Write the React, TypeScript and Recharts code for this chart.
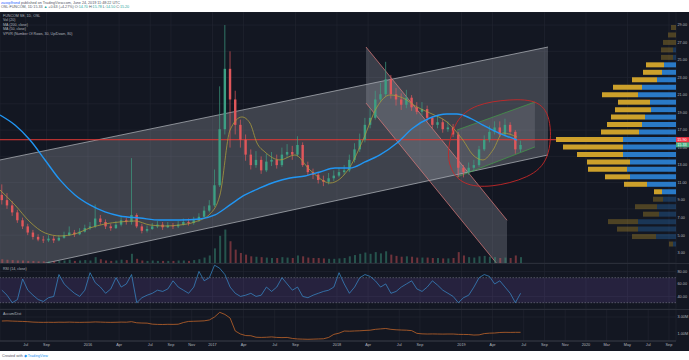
import React from "react"
import {
  ComposedChart,
  BarChart,
  Bar,
  Line,
  Area,
  XAxis,
  YAxis,
  CartesianGrid,
  ReferenceLine,
  ReferenceArea,
  Cell,
} from "recharts"

// ---- time axis (months counted from Jan 2016) ----
const X_DOMAIN: [number, number] = [-8.48, 56.68]
const tickMonths = [-6, -4, 0, 3, 6, 8, 10, 12, 15, 18, 20, 24, 27, 30, 32, 36, 39, 42, 44, 46, 48, 50, 52, 54, 56]
const tickLabels = ["Jul", "Sep", "2016", "Apr", "Jul", "Sep", "Nov", "2017", "Apr", "Jul", "Sep", "2018", "Apr", "Jul", "Sep", "2019", "Apr", "Jul", "Sep", "Nov", "2020", "Mar", "May", "Jul", "Sep"]

// half-month candles, first one mid April 2015
const CANDLE_START = -8.3
const CANDLE_STEP = 0.5

const opens = [
  9.6, 9.0, 8.4, 7.6, 6.7, 6.0, 5.3, 4.8, 4.5, 4.4,
  4.6, 4.4, 4.7, 5.0, 5.3, 5.1, 5.4, 5.8, 6.0, 6.9,
  6.5, 6.0, 5.8, 6.2, 6.7, 6.5, 7.3, 6.0, 5.5, 5.7,
  6.0, 6.2, 5.9, 6.1, 6.0, 6.2, 6.5, 6.4, 6.7, 7.1,
  7.8, 8.4, 10.7, 17.1, 24.0, 20.5, 17.6, 15.9, 14.2, 13.0,
  13.6, 12.4, 13.4, 13.6, 13.0, 14.2, 14.5, 14.2, 15.3, 13.0,
  12.2, 11.9, 11.3, 11.1, 11.5, 11.8, 12.2, 12.4, 13.6, 14.8,
  15.9, 17.6, 18.4, 20.5, 21.1, 22.8, 21.1, 20.5, 19.9, 20.7,
  19.6, 19.1, 19.4, 18.4, 17.6, 17.9, 17.1, 17.3, 16.5, 12.7,
  12.2, 12.7, 13.0, 14.8, 15.9, 16.8, 17.3, 16.5, 17.6, 16.8,
  14.8,
]
const highs = [
  10.8, 9.8, 8.9, 7.9, 7.0, 6.3, 5.6, 5.1, 4.9, 5.0,
  4.9, 5.0, 5.4, 6.0, 5.6, 5.8, 6.2, 6.5, 8.5, 7.3,
  6.8, 6.3, 6.6, 7.2, 7.0, 13.8, 7.5, 6.3, 6.1, 6.4,
  6.6, 6.5, 6.5, 6.4, 6.6, 6.9, 6.9, 7.1, 7.5, 8.3,
  9.0, 12.5, 22.0, 29.0, 26.0, 21.5, 18.2, 16.5, 14.8, 14.6,
  14.0, 14.3, 14.5, 14.2, 15.0, 15.4, 15.2, 16.3, 15.6, 13.4,
  12.6, 12.2, 11.8, 12.1, 12.4, 12.7, 13.0, 14.2, 15.5, 16.6,
  18.4, 19.5, 21.5, 22.4, 24.8, 23.3, 21.8, 21.2, 21.6, 21.0,
  20.2, 20.2, 19.8, 18.6, 18.6, 18.3, 18.0, 17.7, 16.8, 13.0,
  13.3, 13.6, 15.2, 16.4, 17.5, 18.0, 18.0, 18.3, 17.9, 17.0,
  15.8,
]
const lows = [
  8.5, 8.0, 7.2, 6.4, 5.7, 5.0, 4.5, 4.3, 4.1, 4.2,
  4.1, 4.3, 4.6, 4.9, 4.8, 5.0, 5.3, 5.6, 5.8, 6.2,
  5.7, 5.5, 5.7, 6.0, 6.2, 6.2, 5.8, 5.2, 5.3, 5.6,
  5.8, 5.6, 5.8, 5.7, 5.8, 6.1, 6.1, 6.2, 6.5, 7.0,
  7.6, 8.2, 10.5, 16.5, 15.0, 16.5, 15.0, 13.5, 12.5, 12.7,
  12.0, 12.2, 12.9, 12.6, 12.8, 13.8, 13.6, 14.0, 12.8, 11.8,
  11.4, 10.9, 10.6, 10.8, 11.2, 11.6, 11.9, 12.2, 13.3, 14.5,
  15.6, 17.2, 18.2, 20.2, 20.8, 20.6, 19.8, 19.3, 19.5, 19.2,
  18.8, 18.7, 18.0, 17.2, 17.2, 16.7, 16.8, 16.2, 11.6, 11.6,
  11.9, 12.3, 12.8, 14.6, 15.6, 16.5, 16.2, 16.3, 16.5, 14.3,
  14.5,
]
const closes = [
  9.0, 8.4, 7.6, 6.7, 6.0, 5.3, 4.8, 4.5, 4.4, 4.6,
  4.4, 4.7, 5.0, 5.3, 5.1, 5.4, 5.8, 6.0, 6.9, 6.5,
  6.0, 5.8, 6.2, 6.7, 6.5, 7.3, 6.0, 5.5, 5.7, 6.0,
  6.2, 5.9, 6.1, 6.0, 6.2, 6.5, 6.4, 6.7, 7.1, 7.8,
  8.4, 10.7, 17.1, 24.0, 20.5, 17.6, 15.9, 14.2, 13.0, 13.6,
  12.4, 13.4, 13.6, 13.0, 14.2, 14.5, 14.2, 15.3, 13.0, 12.2,
  11.9, 11.3, 11.1, 11.5, 11.8, 12.2, 12.4, 13.6, 14.8, 15.9,
  17.6, 18.4, 20.5, 21.1, 22.8, 21.1, 20.5, 19.9, 20.7, 19.6,
  19.1, 19.4, 18.4, 17.6, 17.9, 17.1, 17.3, 16.5, 12.7, 12.2,
  12.7, 13.0, 14.8, 15.9, 16.8, 17.3, 16.5, 17.6, 16.8, 14.8,
  15.3,
]
// volume, millions of shares
const volumes = [
  0.9, 0.8, 0.7, 0.6, 0.6, 0.5, 0.5, 0.4, 0.4, 0.4,
  0.4, 0.5, 0.6, 0.8, 0.5, 0.6, 0.7, 0.6, 1.4, 0.9,
  0.6, 0.5, 0.6, 0.8, 0.7, 2.2, 1.0, 0.6, 0.5, 0.6,
  0.5, 0.5, 0.5, 0.5, 0.6, 0.6, 0.5, 0.7, 0.9, 1.3,
  1.8, 3.5, 6.5, 8.0, 5.2, 3.2, 2.4, 2.0, 1.6, 1.5,
  1.4, 1.3, 1.2, 1.2, 1.4, 1.3, 1.2, 1.8, 1.6, 1.3,
  1.2, 1.2, 1.1, 1.0, 1.0, 1.1, 1.2, 1.6, 1.9, 2.2,
  2.5, 2.2, 2.6, 2.3, 2.8, 2.0, 1.7, 1.5, 1.6, 1.5,
  1.3, 1.3, 1.3, 1.2, 1.2, 1.1, 1.1, 1.2, 2.6, 1.8,
  1.4, 1.3, 1.6, 1.7, 1.5, 1.4, 1.2, 1.3, 1.2, 1.8,
  1.4,
]
const rsiValues = [
  50, 42, 30, 35, 68, 50, 42, 35, 32, 38,
  40, 75, 60, 52, 45, 40, 50, 78, 62, 55,
  45, 52, 70, 55, 60, 75, 30, 38, 42, 45,
  50, 48, 52, 65, 55, 50, 45, 55, 80, 65,
  70, 90, 85, 75, 55, 45, 40, 42, 45, 40,
  42, 55, 48, 55, 70, 60, 50, 55, 40, 38,
  42, 45, 48, 50, 55, 78, 60, 45, 55, 70,
  75, 72, 65, 55, 60, 45, 48, 55, 60, 65,
  52, 48, 55, 65, 58, 50, 45, 40, 30, 38,
  42, 55, 70, 75, 72, 60, 65, 55, 45, 30,
  45,
]
// accumulation / distribution, millions
const adValues = [
  2.53, 2.55, 2.52, 2.5, 2.48, 2.45, 2.4, 2.38, 2.37, 2.38,
  2.37, 2.39, 2.38, 2.4, 2.38, 2.37, 2.38, 2.39, 2.42, 2.4,
  2.38, 2.37, 2.38, 2.4, 2.39, 2.45, 2.32, 2.29, 2.28, 2.16,
  2.13, 2.12, 2.14, 2.13, 2.15, 2.35, 2.48, 2.5, 2.52, 2.55,
  2.65, 3.0, 3.55, 3.3, 2.88, 1.35, 1.0, 0.82, 0.8, 0.62,
  0.6, 0.62, 0.66, 0.6, 0.58, 0.6, 0.48, 0.42, 0.4, 0.38,
  0.4, 0.42, 0.44, 0.6, 0.96, 1.1, 1.35, 1.33, 1.36, 1.38,
  1.42, 1.45, 1.55, 1.6, 1.65, 1.55, 1.5, 1.47, 1.45, 1.4,
  1.08, 1.02, 1.0, 1.01, 1.0, 0.99, 1.0, 1.0, 0.96, 0.95,
  0.94, 0.88, 0.9, 1.05, 1.1, 1.12, 1.18, 1.2, 1.19, 1.2,
  1.2,
]

// moving averages: [month, price]
const ma200Points = [
  [-8.48, 18.72], [-7.04, 17.58], [-5.59, 15.87], [-4.14, 13.59], [-2.7, 11.31], [-1.25, 9.59],
  [0.19, 8.45], [1.64, 7.65], [3.08, 7.19], [5.01, 6.96], [6.94, 6.73], [8.87, 6.73],
  [10.8, 6.85], [12.24, 7.31], [13.69, 8.45], [15.13, 9.59], [16.58, 10.39], [18.02, 11.07],
  [19.47, 11.53], [20.92, 11.76], [22.36, 12.22], [23.81, 12.67], [25.25, 12.67], [26.7, 13.36],
  [28.14, 14.16], [29.78, 15.53], [31.33, 17.24], [32.96, 18.38], [34.6, 18.84], [35.57, 18.84],
  [36.82, 18.38], [38.07, 17.58], [39.42, 16.78], [41.35, 15.87],
]
const ma50Points = [
  [-8.48, 10.16], [-7.04, 8.45], [-5.59, 6.51], [-4.14, 5.25], [-2.7, 4.91], [-1.25, 5.14],
  [0.19, 5.82], [1.64, 6.28], [3.08, 6.51], [4.53, 6.62], [5.98, 6.16], [7.42, 6.05],
  [8.87, 6.16], [10.31, 6.51], [11.76, 7.42], [12.72, 9.59], [13.69, 17.0], [14.84, 18.5],
  [15.61, 17.81], [16.29, 15.53], [17.06, 14.5], [18.51, 13.59], [19.95, 14.16], [21.4, 12.44],
  [23.33, 10.96], [25.25, 12.79], [26.51, 15.87], [27.86, 19.64], [29.11, 21.01], [30.36, 20.67],
  [31.71, 19.64], [32.96, 18.95], [34.6, 17.93], [36.14, 15.87], [37.11, 14.16], [38.07, 13.59],
  [39.04, 14.73], [40.0, 16.67], [41.35, 16.21],
]

// drawings: [month, lower, upper]
const riseChannel = [[-8.48, 0.68, 13.59], [44.34, 14.16, 26.49]]
const fallChannel = [[26.8, 20.09, 26.49], [40.39, 0.33, 6.71]]
const greenChannel = [[35.57, 11.64, 17.01], [43.08, 15.07, 20.21]]
const circlePoints = [
  [34.6, 14.73], [35.37, 18.15], [37.3, 19.98], [40.67, 20.55], [43.57, 20.44], [44.72, 18.15],
  [44.53, 13.59], [42.6, 11.53], [38.75, 10.39], [36.14, 10.73], [34.89, 12.44],
]
const RES_LINE = 15.9
const LAST_PRICE = 15.33

// price axis
const PRICE_DOMAIN: [number, number] = [1.82, 30.49]
const priceTicks = [3, 4, 5, 6, 7, 8, 9, 10, 11, 12, 13, 14, 15, 16, 17, 18, 19, 20, 21, 22, 23, 24, 25, 26, 27, 28, 29]

// volume profile rows, top to bottom: up / down volume, inside value area
const vpUp = [0, 0, 0, 3, 3, 12, 14, 19, 34, 38, 26, 25, 31, 34, 37, 53, 53, 53, 46, 49, 46, 29, 14, 13, 19, 17, 38, 38, 20, 3]
const vpDown = [5, 8, 13, 12, 12, 18, 19, 25, 29, 36, 32, 36, 34, 35, 38, 67, 60, 46, 43, 39, 25, 23, 8, 10, 22, 16, 30, 21, 24, 4]
const vpInValueArea = [0, 0, 0, 0, 0, 1, 1, 1, 1, 1, 1, 1, 1, 1, 1, 1, 1, 1, 1, 1, 1, 1, 1, 0, 0, 0, 0, 0, 0, 0]

const W = 689
const AXIS_W = 13
const BG = "#131722"
const GRID = "#232733"
const TEXT = "#b2b5be"
const UP = "#3d9f83"
const DOWN = "#e0575b"
const FONT = "'Liberation Sans', Arial, sans-serif"

const candles = closes.map((c, i) => ({
  t: CANDLE_START + i * CANDLE_STEP,
  open: opens[i],
  high: highs[i],
  low: lows[i],
  close: c,
  vol: volumes[i],
  rsi: rsiValues[i],
  ad: adValues[i],
}))
const ma200 = ma200Points.map(([t, v]) => ({ t, v }))
const ma50 = ma50Points.map(([t, v]) => ({ t, v }))
const toBand = (rows: number[][]) => rows.map(([t, lo, hi]) => ({ t, band: [lo, hi] }))
const circle = circlePoints.map(([t, v]) => ({ t, v }))
const vpRows = vpUp.map((u, i) => ({ row: i, up: u, down: vpDown[i], va: vpInValueArea[i] }))

function Candle(props: any) {
  const { x, y, width, height, payload } = props
  if (!payload || height == null) return null
  const top = Math.min(y, y + height)
  const h = Math.abs(height)
  const span = payload.high - payload.low || 1
  const toY = (v: number) => top + ((payload.high - v) / span) * h
  const color = payload.close >= payload.open ? UP : DOWN
  const cx = x + width / 2
  const b1 = toY(Math.max(payload.open, payload.close))
  const b2 = toY(Math.min(payload.open, payload.close))
  return (
    <g>
      <line x1={cx} x2={cx} y1={top} y2={top + h} stroke={color} strokeWidth={0.7} />
      <rect x={cx - 1.2} y={b1} width={2.4} height={Math.max(0.8, b2 - b1)} fill={color} />
    </g>
  )
}

const axisTag = (text: string, bg: string) => (props: any) => {
  const vb = props.viewBox
  if (!vb) return null
  const x = vb.x + vb.width
  return (
    <g>
      <rect x={x} y={vb.y - 2.6} width={AXIS_W} height={5.2} fill={bg} />
      <text x={x + 1.2} y={vb.y + 1.4} fontSize={3.8} fill="#fff" fontFamily={FONT}>
        {text}
      </text>
    </g>
  )
}

const layer = (top: number, height: number): React.CSSProperties => ({
  position: "absolute",
  left: 0,
  top,
  width: W,
  height,
})

const noMargin = { top: 0, right: 0, bottom: 0, left: 0 }
const overlayMargin = { top: 0, right: AXIS_W, bottom: 0, left: 0 }
const tickStyle = { fontSize: 3.8, fill: TEXT, fontFamily: FONT }

const hiddenX = (
  <XAxis type="number" dataKey="t" domain={X_DOMAIN} ticks={tickMonths} allowDataOverflow hide />
)

function Legend({ top, lines }: { top: number; lines: string[] }) {
  return (
    <div style={{ position: "absolute", left: 3, top, fontFamily: FONT, fontSize: 3.6, lineHeight: "4.5px", color: TEXT, whiteSpace: "nowrap" }}>
      {lines.map((l) => (
        <div key={l}>{l}</div>
      ))}
    </div>
  )
}

export default function App() {
  const MAIN_TOP = 12
  const MAIN_H = 251
  return (
    <div style={{ position: "absolute", left: 0, top: 0, width: W, height: 360, background: "#fff", overflow: "hidden", fontFamily: FONT }}>
      {/* header */}
      <div style={{ position: "absolute", left: 1, top: 0.5, fontSize: 3.7, lineHeight: "4.4px", color: "#50535e", whiteSpace: "nowrap" }}>
        <div>
          <span style={{ color: "#2962ff" }}>zaxxplfrond</span> published on TradingView.com, June 24, 2019 11:48:22 UTC
        </div>
        <div>
          OSL:FUNCOM, 1D 15.33 <span style={{ color: "#26a69a" }}>▲</span> +0.63 (+4.27%) O:<span style={{ color: "#26a69a" }}>14.70</span> H:<span style={{ color: "#26a69a" }}>15.78</span> L:<span style={{ color: "#26a69a" }}>14.50</span> C:<span style={{ color: "#26a69a" }}>15.20</span>
        </div>
      </div>

      {/* dark chart area */}
      <div style={{ ...layer(MAIN_TOP, 351 - MAIN_TOP), background: BG }} />

      {/* main panel: grid, price axis, drawings */}
      <div style={layer(MAIN_TOP, MAIN_H)}>
        <ComposedChart width={W} height={MAIN_H} margin={noMargin}>
          <CartesianGrid stroke={GRID} strokeWidth={0.6} />
          {hiddenX}
          <YAxis
            orientation="right"
            width={AXIS_W}
            domain={PRICE_DOMAIN}
            ticks={priceTicks}
            allowDataOverflow
            axisLine={false}
            tickLine={false}
            tickSize={0}
            tickMargin={1.5}
            tick={tickStyle}
            tickFormatter={(v: number) => v.toFixed(2)}
          />
          <Area data={toBand(riseChannel)} dataKey="band" type="linear" fill="#a3a6af" fillOpacity={0.3} stroke="#b8bbc2" strokeWidth={0.7} isAnimationActive={false} />
          <Area data={toBand(fallChannel)} dataKey="band" type="linear" fill="#a3a6af" fillOpacity={0.28} stroke="#e47c7c" strokeWidth={0.7} isAnimationActive={false} />
          <Area data={toBand(greenChannel)} dataKey="band" type="linear" fill="#a3a6af" fillOpacity={0.2} stroke="#43a047" strokeWidth={0.7} isAnimationActive={false} />
          <ReferenceLine y={LAST_PRICE} stroke="none" label={axisTag(LAST_PRICE.toFixed(2), "#3fae7f")} />
          <ReferenceLine y={RES_LINE} stroke="#e53935" strokeWidth={1} label={axisTag(RES_LINE.toFixed(2), "#f23645")} />
        </ComposedChart>
      </div>

      {/* volume */}
      <div style={layer(MAIN_TOP, MAIN_H)}>
        <ComposedChart width={W} height={MAIN_H} data={candles} margin={overlayMargin}>
          {hiddenX}
          <YAxis domain={[0, 60]} hide />
          <Bar dataKey="vol" barSize={2} isAnimationActive={false}>
            {candles.map((c, i) => (
              <Cell key={i} fill={c.close >= c.open ? UP : DOWN} fillOpacity={0.45} />
            ))}
          </Bar>
        </ComposedChart>
      </div>

      {/* volume profile */}
      <div style={layer(24, 224)}>
        <BarChart width={W} height={224} data={vpRows} layout="vertical" margin={overlayMargin} barCategoryGap={1}>
          <XAxis type="number" domain={[0, 676]} reversed hide />
          <YAxis type="category" dataKey="row" hide />
          <Bar dataKey="up" stackId="vp" isAnimationActive={false}>
            {vpRows.map((r) => (
              <Cell key={r.row} fill="#2b7fd1" fillOpacity={r.va ? 0.95 : 0.3} />
            ))}
          </Bar>
          <Bar dataKey="down" stackId="vp" isAnimationActive={false}>
            {vpRows.map((r) => (
              <Cell key={r.row} fill="#d6a82c" fillOpacity={r.va ? 0.95 : 0.3} />
            ))}
          </Bar>
        </BarChart>
      </div>

      {/* candles */}
      <div style={layer(MAIN_TOP, MAIN_H)}>
        <ComposedChart width={W} height={MAIN_H} data={candles} margin={overlayMargin}>
          {hiddenX}
          <YAxis domain={PRICE_DOMAIN} allowDataOverflow hide />
          <Bar dataKey={(d: any) => [d.low, d.high]} shape={<Candle />} isAnimationActive={false} />
        </ComposedChart>
      </div>

      {/* moving averages and hand drawn circle */}
      <div style={layer(MAIN_TOP, MAIN_H)}>
        <ComposedChart width={W} height={MAIN_H} margin={overlayMargin}>
          {hiddenX}
          <YAxis domain={PRICE_DOMAIN} allowDataOverflow hide />
          <Line data={ma50} dataKey="v" type="monotone" stroke="#a89a3c" strokeWidth={0.8} dot={false} isAnimationActive={false} />
          <Line data={ma200} dataKey="v" type="monotone" stroke="#2196f3" strokeWidth={1.4} dot={false} isAnimationActive={false} />
          <Line data={circle} dataKey="v" type="basisClosed" stroke="#c62828" strokeWidth={0.9} dot={false} isAnimationActive={false} />
        </ComposedChart>
      </div>

      <Legend top={13.5} lines={["FUNCOM SE, 1D, OSL", "Vol (20)", "MA (200, close)", "MA (50, close)", "VPVR (Number Of Rows, 30, Up/Down, 80)"]} />

      {/* RSI */}
      <div style={layer(263, 46)}>
        <ComposedChart width={W} height={46} data={candles} margin={noMargin}>
          <CartesianGrid stroke={GRID} strokeWidth={0.6} />
          {hiddenX}
          <YAxis
            orientation="right"
            width={AXIS_W}
            domain={[19.9, 93.5]}
            ticks={[20, 40, 60, 80]}
            allowDataOverflow
            axisLine={false}
            tickLine={false}
            tickSize={0}
            tickMargin={1.5}
            tick={tickStyle}
            tickFormatter={(v: number) => v.toFixed(2)}
          />
          <ReferenceArea y1={30} y2={70} fill="#7e57c2" fillOpacity={0.18} stroke="none" />
          <ReferenceLine y={70} stroke="#787b86" strokeDasharray="1.5 1.5" strokeWidth={0.6} />
          <ReferenceLine y={30} stroke="#787b86" strokeDasharray="1.5 1.5" strokeWidth={0.6} />
          <Line dataKey="rsi" type="linear" stroke="#3a8fd0" strokeWidth={0.7} dot={false} isAnimationActive={false} />
        </ComposedChart>
      </div>
      <Legend top={266.5} lines={["RSI (14, close)"]} />

      {/* Accumulation / distribution + time axis */}
      <div style={layer(309, 42)}>
        <ComposedChart width={W} height={42} data={candles} margin={noMargin}>
          <CartesianGrid stroke={GRID} strokeWidth={0.6} />
          <XAxis
            type="number"
            dataKey="t"
            domain={X_DOMAIN}
            ticks={tickMonths}
            interval={0}
            allowDataOverflow
            height={10}
            axisLine={{ stroke: "#363a45" }}
            tickLine={false}
            tickSize={0}
            tickMargin={2.5}
            tick={tickStyle}
            tickFormatter={(v: number) => tickLabels[tickMonths.indexOf(v)]}
          />
          <YAxis
            orientation="right"
            width={AXIS_W}
            domain={[0.18, 3.94]}
            ticks={[1, 2, 3]}
            allowDataOverflow
            axisLine={false}
            tickLine={false}
            tickSize={0}
            tickMargin={1.5}
            tick={tickStyle}
            tickFormatter={(v: number) => `${v.toFixed(2)}M`}
          />
          <Line dataKey="ad" type="linear" stroke="#c0652a" strokeWidth={0.8} dot={false} isAnimationActive={false} />
        </ComposedChart>
      </div>
      <Legend top={312} lines={["Accum/Dist"]} />

      {/* panel separators */}
      <div style={{ position: "absolute", left: 0, top: 263, width: W, height: 1, background: "#2a2e39" }} />
      <div style={{ position: "absolute", left: 0, top: 309, width: W, height: 1, background: "#2a2e39" }} />

      {/* footer */}
      <div style={{ position: "absolute", left: 2, top: 353.5, fontSize: 3.7, color: "#50535e", whiteSpace: "nowrap" }}>
        Created with <span style={{ color: "#2196f3" }}>◆ TradingView</span>
      </div>
    </div>
  )
}
